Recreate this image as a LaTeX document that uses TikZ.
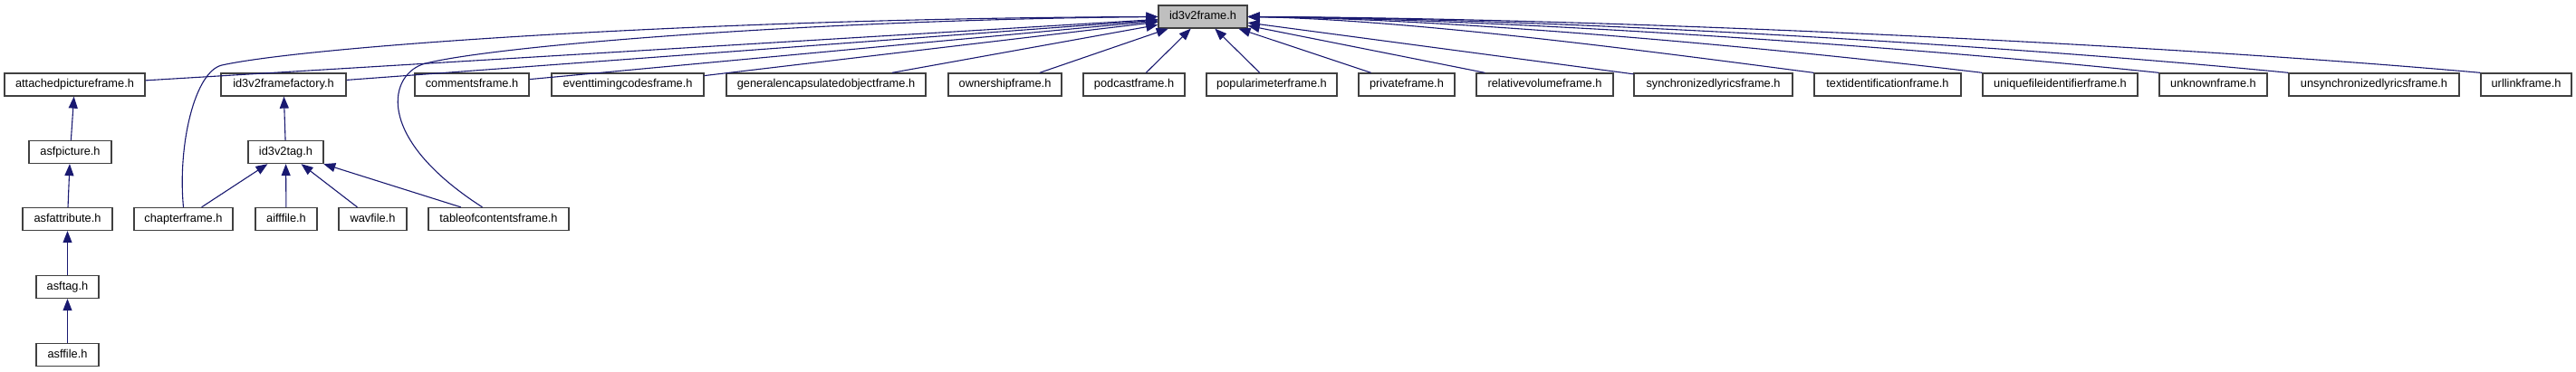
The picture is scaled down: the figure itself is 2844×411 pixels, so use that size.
\documentclass[tikz,border=0pt]{standalone}
\usepackage{fontspec}
\setmainfont{Liberation Sans}
\usetikzlibrary{arrows.meta}
\definecolor{edgeblue}{HTML}{191970}
\definecolor{boxline}{HTML}{404040}
\definecolor{topfill}{HTML}{BFBFBF}

\begin{document}
\begin{tikzpicture}[x=1pt, y=-1pt,
    every node/.style={font=\fontsize{12.8}{14}\selectfont},
    hfile/.style={draw=boxline, line width=1.3pt, fill=white, minimum height=25pt,
        inner xsep=2pt, inner ysep=0pt, text height=9.4pt, text depth=3pt},
    dep/.style={draw=edgeblue, line width=1.1pt, -{Triangle[length=13pt, width=10pt]}}]
    \useasboundingbox (0,0) rectangle (2844,411);

    % the header everything depends on
    \node[hfile, fill=topfill, minimum width=98pt] (frame) at (1328,18.5) {id3v2frame.h};

    % first row: direct includers
    \node[hfile, minimum width=155pt] (apframe) at (82.5,93.5) {attachedpictureframe.h};
    \node[hfile, minimum width=138pt] (factory) at (313,93.5) {id3v2framefactory.h};
    \node[hfile, minimum width=126pt] (comments) at (521,93.5) {commentsframe.h};
    \node[hfile, minimum width=168pt] (etco) at (693,93.5) {eventtimingcodesframe.h};
    \node[hfile, minimum width=220pt] (geob) at (912,93.5) {generalencapsulatedobjectframe.h};
    \node[hfile, minimum width=125pt] (owne) at (1109.5,93.5) {ownershipframe.h};
    \node[hfile, minimum width=112pt] (podcast) at (1252,93.5) {podcastframe.h};
    \node[hfile, minimum width=144pt] (popm) at (1404,93.5) {popularimeterframe.h};
    \node[hfile, minimum width=106pt] (priv) at (1553,93.5) {privateframe.h};
    \node[hfile, minimum width=151pt] (rva) at (1705.5,93.5) {relativevolumeframe.h};
    \node[hfile, minimum width=175pt] (sylt) at (1891.5,93.5) {synchronizedlyricsframe.h};
    \node[hfile, minimum width=162pt] (textid) at (2084,93.5) {textidentificationframe.h};
    \node[hfile, minimum width=171pt] (ufid) at (2274.5,93.5) {uniquefileidentifierframe.h};
    \node[hfile, minimum width=119pt] (unknown) at (2443.5,93.5) {unknownframe.h};
    \node[hfile, minimum width=188pt] (uslt) at (2621,93.5) {unsynchronizedlyricsframe.h};
    \node[hfile, minimum width=100pt] (urllink) at (2789,93.5) {urllinkframe.h};

    % lower rows
    \node[hfile, minimum width=91pt] (asfpic) at (77.5,168) {asfpicture.h};
    \node[hfile, minimum width=83pt] (tag) at (315.5,168) {id3v2tag.h};
    \node[hfile, minimum width=99pt] (asfattr) at (74.5,242) {asfattribute.h};
    \node[hfile, minimum width=109pt] (chap) at (202.5,242) {chapterframe.h};
    \node[hfile, minimum width=68pt] (aiff) at (316,242) {aifffile.h};
    \node[hfile, minimum width=75pt] (wav) at (411.5,242) {wavfile.h};
    \node[hfile, minimum width=155pt] (toc) at (550.5,242) {tableofcontentsframe.h};
    \node[hfile, minimum width=69pt] (asftag) at (74.5,317) {asftag.h};
    \node[hfile, minimum width=69pt] (asffile) at (74.5,392) {asffile.h};

    % edges into id3v2frame.h
    \draw[dep] (apframe) -- (frame);
    \draw[dep] (factory) -- (frame);
    \draw[dep] (comments) -- (frame);
    \draw[dep] (etco) -- (frame);
    \draw[dep] (geob) -- (frame);
    \draw[dep] (owne) -- (frame);
    \draw[dep] (podcast) -- (frame);
    \draw[dep] (popm) -- (frame);
    \draw[dep] (priv) -- (frame);
    \draw[dep] (rva) -- (frame);
    \draw[dep] (sylt) -- (frame);
    \draw[dep] (textid.north west) .. controls (1846,60) and (1565,22) .. (frame.east);
    \draw[dep] (ufid.north west) .. controls (1986,56) and (1621,21) .. (frame.east);
    \draw[dep] (unknown.north west) .. controls (2132,54) and (1679,21) .. (frame.east);
    \draw[dep] (uslt.north west) .. controls (2240,52) and (1722,20) .. (frame.east);
    \draw[dep] (urllink.north west) .. controls (2399,50) and (1786,20) .. (frame.east);
    \draw[dep] (chap.north) .. controls (196,160) and (215,79) .. (245,72)
        .. controls (345,50) and (800,20) .. (frame.west);
    \draw[dep] ([xshift=-18pt]toc.north) .. controls (410,150) and (430,80) .. (470,70)
        .. controls (550,50) and (900,22) .. (frame.west);

    % other edges
    \draw[dep] (asfpic) -- (apframe);
    \draw[dep] (asfattr) -- (asfpic);
    \draw[dep] (asftag) -- (asfattr);
    \draw[dep] (asffile) -- (asftag);
    \draw[dep] (tag) -- (factory);
    \draw[dep] (chap) -- (tag);
    \draw[dep] (aiff) -- (tag);
    \draw[dep] (wav) -- (tag);
    \draw[dep] (toc) -- (tag);
\end{tikzpicture}
\end{document}
